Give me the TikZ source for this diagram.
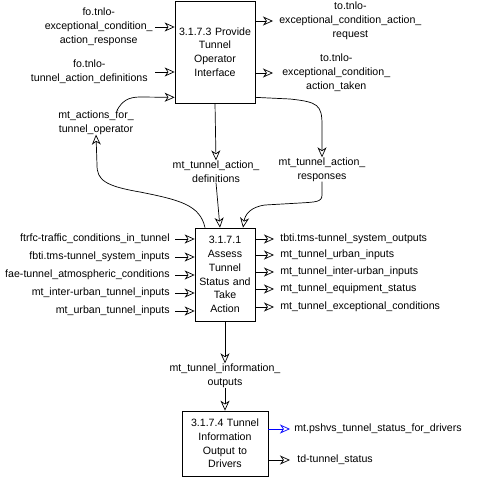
\documentclass[tikz,border=0pt]{standalone}
\usepackage{fontspec}
\setmainfont{Liberation Sans}
\usetikzlibrary{arrows.meta}

\begin{document}
\begin{tikzpicture}[x=1pt,y=-1pt,>={Stealth[open,length=10pt,width=9pt,inset=3pt]},
  line width=0.7pt,font=\fontsize{10.6}{13.8}\selectfont,
  proc/.style={draw,align=center,inner sep=1pt},
  lbl/.style={align=center,inner sep=0pt},
  flow/.style={->}]
\useasboundingbox (0,0) rectangle (477,490);
% process boxes
\node[proc,minimum width=80,minimum height=102,text width=78] (p3) at (215,52)    {3.1.7.3 Provide\\Tunnel\\Operator\\Interface};
\node[proc,minimum width=60,minimum height=93,text width=58]  (p1) at (225,274.5) {3.1.7.1\\Assess\\Tunnel\\Status and\\Take\\Action};
\node[proc,minimum width=86,minimum height=65,text width=84]  (p4) at (225,443.5) {3.1.7.4 Tunnel\\Information\\Output to\\Drivers};
% flows of 3.1.7.3
\node[lbl,anchor=east] (resp) at (153,27) {fo.tnlo-\\exceptional\_condition\_\\action\_response};
\node[lbl,anchor=east] (defs) at (148,72) {fo.tnlo-\\tunnel\_action\_definitions};
\node[lbl] (opact) at (96,122.5) {mt\_actions\_for\_\\tunnel\_operator};
\node[lbl,anchor=west] (req)   at (279,21) {to.tnlo-\\exceptional\_condition\_action\_\\request};
\node[lbl,anchor=west] (taken) at (282,73) {to.tnlo-\\exceptional\_condition\_\\action\_taken};
\node[lbl] (tadef) at (216,171.5) {mt\_tunnel\_action\_\\definitions};
\node[lbl] (tares) at (322,169.5) {mt\_tunnel\_action\_\\responses};
\draw[flow] ([xshift=2]resp.east) -- (resp.east -| p3.west);
\draw[flow] ([xshift=7]defs.east) -- (defs.east -| p3.west);
\draw[flow] ([xshift=21]opact.north) .. controls +(5,-9) and (128,97) .. (140,97) -- ([yshift=6]p3.south west);
\draw[flow] (p3.east |- req.west) -- ([xshift=-6]req.west);
\draw[flow] (p3.east |- taken.west) -- ([xshift=-9]taken.west);
\draw[flow] ([yshift=6]p3.south east) -- (290,99) .. controls (318,102) and (322,105) .. (322,125) -- (tares.north);
\draw[flow] (p3.south) -- (tadef.north);
% flows of 3.1.7.1
\draw[flow] (tadef.south) -- ([xshift=-5]p1.north);
\draw[flow] (tares.south) -- (322,195) .. controls (322,202) and (316,202) .. (300,203) -- (265,205) .. controls (250,207) and (245,215) .. ([xshift=18]p1.north);
\draw[flow] ([xshift=-20]p1.north) .. controls (200,205) and (180,200) .. (140,192) .. controls (105,186) and (97,180) .. (97,165) -- (opact.south);
\foreach \name/\y/\txt in {i1/239/ftrfc-traffic\_conditions\_in\_tunnel,
    i2/257/fbti.tms-tunnel\_system\_inputs,
    i3/275/fae-tunnel\_atmospheric\_conditions,
    i4/293/mt\_inter-urban\_tunnel\_inputs,
    i5/311/mt\_urban\_tunnel\_inputs}{
  \node[lbl,anchor=east] (\name) at (170,\y) {\txt};
  \draw[flow] ([xshift=5]\name.east) -- (\name.east -| p1.west);
}
\foreach \name/\y/\txt in {o1/239/tbti.tms-tunnel\_system\_outputs,
    o2/255/mt\_tunnel\_urban\_inputs,
    o3/272/mt\_tunnel\_inter-urban\_inputs,
    o4/289/mt\_tunnel\_equipment\_status,
    o5/307/mt\_tunnel\_exceptional\_conditions}{
  \node[lbl,anchor=west] (\name) at (280,\y) {\txt};
  \draw[flow] (p1.east |- \name.west) -- ([xshift=-6]\name.west);
}
\node[lbl] (tinfo) at (225,375.5) {mt\_tunnel\_information\_\\outputs};
\draw[flow] (p1.south) -- (tinfo.north);
% flows of 3.1.7.4
\draw[flow] (tinfo.south) -- (p4.north);
\node[lbl,anchor=west] (drv) at (294,429) {mt.pshvs\_tunnel\_status\_for\_drivers};
\node[lbl,anchor=west] (tds) at (297,460) {td-tunnel\_status};
\draw[flow,blue] (p4.east |- drv.west) -- ([xshift=-4]drv.west);
\draw[flow] (p4.east |- tds.west) -- ([xshift=-7]tds.west);
\end{tikzpicture}
\end{document}
